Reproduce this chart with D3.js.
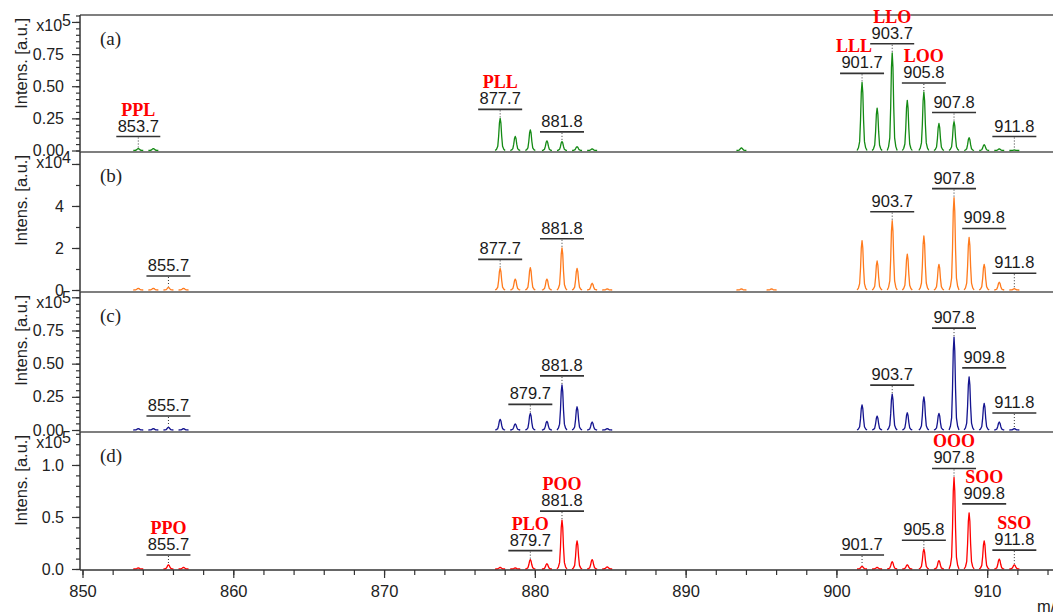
<!DOCTYPE html>
<html>
<head>
<meta charset="utf-8">
<script src="https://cdn.jsdelivr.net/npm/d3@7"></script>
<style>
  body { margin: 0; background: #fff; }
  svg { display: block; font-family: "Liberation Sans", Arial, sans-serif; }
</style>
</head>
<body>
<svg id="chart" width="1053" height="616"></svg>
<script>
// Isotope peak positions (m/z) shared by all four spectra
const mz = [853.7, 854.7, 855.7, 856.7,
            877.7, 878.7, 879.7, 880.8, 881.8, 882.8, 883.8, 884.8,
            893.7, 895.7,
            901.7, 902.7, 903.7, 904.7, 905.8, 906.8, 907.8, 908.8, 909.8, 910.8, 911.8];

// Peak intensities, in units of the panel's axis multiplier
const intensA = [0.015, 0.015, 0, 0,
                 0.25, 0.11, 0.16, 0.075, 0.07, 0.03, 0.012, 0,
                 0.02, 0,
                 0.53, 0.33, 0.76, 0.39, 0.455, 0.21, 0.225, 0.10, 0.045, 0.012, 0.004];   // x10^5
const intensB = [0.08, 0.08, 0.12, 0.08,
                 1.03, 0.52, 1.06, 0.52, 2.01, 1.03, 0.32, 0.05,
                 0.05, 0.05,
                 2.35, 1.38, 3.3, 1.71, 2.57, 1.22, 4.4, 2.5, 1.22, 0.37, 0.06];          // x10^4
const intensC = [0.01, 0.01, 0.02, 0.01,
                 0.08, 0.045, 0.125, 0.065, 0.34, 0.175, 0.06, 0.01,
                 0, 0,
                 0.19, 0.105, 0.27, 0.13, 0.25, 0.125, 0.70, 0.40, 0.20, 0.06, 0.01];    // x10^5
const intensD = [0.01, 0, 0.04, 0.015,
                 0.015, 0.01, 0.09, 0.05, 0.47, 0.27, 0.09, 0.02,
                 0, 0,
                 0.025, 0.015, 0.07, 0.04, 0.19, 0.08, 0.88, 0.54, 0.27, 0.095, 0.04];   // x10^5

// Peaks annotated with their m/z
const labelsA = [853.7, 877.7, 881.8, 901.7, 903.7, 905.8, 907.8, 911.8];
const labelsB = [855.7, 877.7, 881.8, 903.7, 907.8, 909.8, 911.8];
const labelsC = [855.7, 879.7, 881.8, 903.7, 907.8, 909.8, 911.8];
const labelsD = [855.7, 879.7, 881.8, 901.7, 905.8, 907.8, 909.8, 911.8];

// Triacylglycerol assignments
const tagsA = [["PPL", 853.7], ["PLL", 877.7], ["LLL", 901.7], ["LLO", 903.7], ["LOO", 905.8]];
const tagsB = [];
const tagsC = [];
const tagsD = [["PPO", 855.7], ["PLO", 879.7], ["POO", 881.8], ["OOO", 907.8], ["SOO", 909.8], ["SSO", 911.8]];

// Axis settings
const panelNames = ["(a)", "(b)", "(c)", "(d)"];
const exponents = [5, 4, 5, 5];
const yMaxes = [1.054, 6.57, 1.04, 1.317];
const yMajorTicks = [[0, 0.25, 0.5, 0.75, 1.0], [0, 2, 4, 6], [0, 0.25, 0.5, 0.75, 1.0], [0, 0.5, 1.0]];
const yTickLabelTop = [1.0, 6, 1.0, null];   // replaced by the multiplier label
const yMinorStep = [0.05, 1, 0.05, 0.1];
const yFormats = [".2f", "d", ".2f", ".1f"];
const xMajorTicks = [850, 860, 870, 880, 890, 900, 910];

const colors = ["#138a13", "#ff7a1c", "#14148f", "#ff0000"];

const SANS = "'Liberation Sans', Arial, sans-serif";
const SERIF = "'Liberation Serif', 'Times New Roman', serif";

// Layout
const svg = d3.select("#chart");
const plotLeft = 80;
const tops = [15, 152, 292, 432];
const bottoms = [152, 292, 432, 570];
const zeros = [150.5, 290, 430, 569];

const x = d3.scaleLinear().domain([850, 910]).range([82.5, 987.2]);
const xEnd = x.invert(1063);

// Shape of a single profile peak: (m/z offset, fraction of apex)
const peakProfile = [[-0.33, 0], [-0.24, 0.04], [-0.16, 0.13], [-0.1, 0.45], [-0.05, 0.85], [0, 1],
                     [0.05, 0.85], [0.1, 0.45], [0.16, 0.13], [0.24, 0.04], [0.33, 0]];

const intensities = [intensA, intensB, intensC, intensD];
const labelSets = [labelsA, labelsB, labelsC, labelsD];
const tagSets = [tagsA, tagsB, tagsC, tagsD];
const tagNudge = { LLL: -8 };

intensities.forEach((vals, p) => {
  const top = tops[p], bottom = bottoms[p], zero = zeros[p];
  const y = d3.scaleLinear().domain([0, yMaxes[p]]).range([zero, top]);
  const g = svg.append("g");

  // peaks
  const line = d3.line().x(d => x(d[0])).y(d => y(d[1]));
  mz.forEach((m, i) => {
    const h = vals[i];
    if (!(h > 0)) return;
    g.append("path")
      .attr("d", line(peakProfile.map(([dm, f]) => [m + dm, h * f])))
      .attr("fill", "none")
      .attr("stroke", colors[p])
      .attr("stroke-width", 1.3)
      .attr("stroke-linejoin", "round");
  });

  // frame line at the top of the panel
  g.append("line")
    .attr("x1", plotLeft).attr("x2", 1063)
    .attr("y1", top).attr("y2", top)
    .attr("stroke", "#555").attr("stroke-width", 1.5);

  // y axis: minor ticks, then major ticks with labels
  const minors = d3.range(0, yMaxes[p] + 1e-9, yMinorStep[p]);
  svg.append("g")
    .attr("transform", `translate(${plotLeft},0)`)
    .call(d3.axisLeft(y).tickValues(minors).tickSize(4).tickFormat(""))
    .call(a => a.select(".domain").remove())
    .call(a => a.selectAll("line").attr("stroke", "#333").attr("stroke-width", 1.2));

  const fmt = d3.format(yFormats[p]);
  svg.append("g")
    .attr("transform", `translate(${plotLeft},0)`)
    .call(d3.axisLeft(y).tickValues(yMajorTicks[p]).tickSize(8).tickSizeOuter(0).tickPadding(8)
      .tickFormat(v => (v === yTickLabelTop[p] ? "" : fmt(v))))
    .call(a => a.select(".domain").attr("stroke", "#333").attr("stroke-width", 1.5)
      .attr("d", `M0,${bottom}V${top}`))
    .call(a => a.selectAll("line").attr("stroke", "#333").attr("stroke-width", 1.2))
    .call(a => a.selectAll("text").attr("font-size", 16).attr("fill", "#222")
      .style("font-family", SANS));

  // multiplier label
  const mult = svg.append("text")
    .attr("x", 71).attr("y", top + 15.5)
    .attr("text-anchor", "end")
    .style("font-family", SANS)
    .attr("font-size", 16).attr("fill", "#222");
  mult.append("tspan").text("x10");
  mult.append("tspan").attr("dy", -5).text(exponents[p]);

  // axis title
  svg.append("text")
    .attr("transform", `translate(27,${top + 3}) rotate(-90)`)
    .attr("text-anchor", "end")
    .style("font-family", SANS)
    .attr("font-size", 16.5).attr("fill", "#222")
    .text("Intens. [a.u.]");

  // panel letter
  svg.append("text")
    .attr("x", 100).attr("y", top + 30)
    .style("font-family", SERIF)
    .attr("font-size", 19).attr("fill", "#222")
    .text(panelNames[p]);

  // m/z annotations
  const half = 22;
  const barLevel = {};
  labelSets[p].forEach(m => {
    const xc = x(m);
    let barY = zero - 14;
    mz.forEach((mm, i) => {
      const xp = x(mm);
      if (vals[i] > 0 && xp >= xc - half && xp <= xc + half) {
        barY = Math.min(barY, y(vals[i]) - 9);
      }
    });
    barLevel[m] = barY;
    const h = vals[mz.indexOf(m)] || 0;
    const peakTop = y(h);
    const drop = peakTop - 1 - (barY + 1);
    if (drop > 1 && drop < 22) {
      g.append("line")
        .attr("x1", xc).attr("x2", xc)
        .attr("y1", barY + 1).attr("y2", peakTop - 1)
        .attr("stroke", "#333").attr("stroke-width", 1)
        .attr("stroke-dasharray", "1,2");
    }
    g.append("line")
      .attr("x1", xc - half).attr("x2", xc + half)
      .attr("y1", barY).attr("y2", barY)
      .attr("stroke", "#333").attr("stroke-width", 1.6);
    g.append("text")
      .attr("x", xc).attr("y", barY - 5)
      .attr("text-anchor", "middle")
      .style("font-family", SANS)
      .attr("font-size", 16.5).attr("fill", "#1a1a1a")
      .text(m.toFixed(1));
  });

  // compound assignments
  tagSets[p].forEach(([name, m]) => {
    g.append("text")
      .attr("x", x(m) + (tagNudge[name] || 0)).attr("y", barLevel[m] - 21)
      .attr("text-anchor", "middle")
      .style("font-family", SERIF)
      .attr("font-weight", "bold").attr("font-size", 18).attr("fill", "#ff0000")
      .text(name);
  });
});

// shared m/z axis under the last panel
const xMinors = d3.range(850, xEnd, 2);
svg.append("g")
  .attr("transform", `translate(0,${bottoms[3]})`)
  .call(d3.axisBottom(x).tickValues(xMinors).tickSize(5).tickFormat(""))
  .call(a => a.select(".domain").remove())
  .call(a => a.selectAll("line").attr("stroke", "#333").attr("stroke-width", 1.2));
svg.append("g")
  .attr("transform", `translate(0,${bottoms[3]})`)
  .call(d3.axisBottom(x).tickValues(xMajorTicks).tickSize(8).tickSizeOuter(0).tickPadding(7).tickFormat(d3.format("d")))
  .call(a => a.select(".domain").attr("stroke", "#333").attr("stroke-width", 1.5)
    .attr("d", `M${plotLeft},0H1063`))
  .call(a => a.selectAll("line").attr("stroke", "#333").attr("stroke-width", 1.2))
  .call(a => a.selectAll("text").attr("font-size", 16.5).attr("fill", "#222")
    .style("font-family", SANS));

svg.append("text")
  .attr("x", 1037).attr("y", 612)
  .style("font-family", SANS)
  .attr("font-size", 16.5).attr("fill", "#222")
  .text("m/z");
</script>
</body>
</html>
